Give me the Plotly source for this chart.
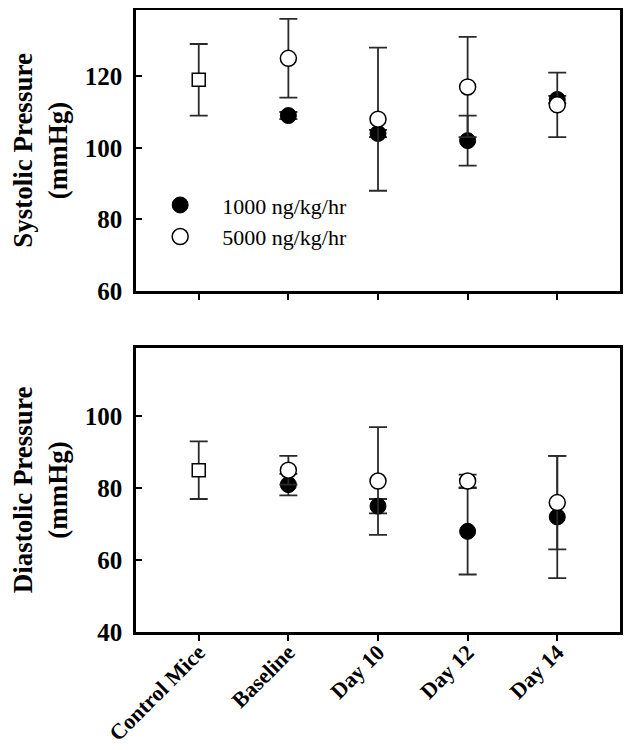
import plotly.graph_objects as go
from plotly.subplots import make_subplots

categories = ["Control Mice", "Baseline", "Day 10", "Day 12", "Day 14"]

# Systolic (top panel)
sys_control = [119]
sys_control_err = [10]
sys_1000 = [109, 104, 102, 113.5]
sys_1000_err = [1, 1, 7, 1]
sys_5000 = [125, 108, 117, 112]
sys_5000_err = [11, 20, 14, 9]

# Diastolic (bottom panel)
dia_control = [85]
dia_control_err = [8]
dia_1000 = [81, 75, 68, 72]
dia_1000_err = [3, 2, 12, 17]
dia_5000 = [85, 82, 82, 76]
dia_5000_err = [4, 15, 1.8, 13]

FONT = "Liberation Serif"
ERRC = "#2a2a2a"

fig = make_subplots(rows=2, cols=1, vertical_spacing=0.0)

def err(vals):
    return dict(type="data", array=vals, visible=True, color=ERRC, thickness=1.8, width=9)

x_ctrl = [categories[0]]
x_trt = categories[1:]

for row, ctrl, ctrl_e, v1, e1, v5, e5 in [
    (1, sys_control, sys_control_err, sys_1000, sys_1000_err, sys_5000, sys_5000_err),
    (2, dia_control, dia_control_err, dia_1000, dia_1000_err, dia_5000, dia_5000_err),
]:
    fig.add_trace(go.Scatter(
        x=x_ctrl, y=ctrl, mode="markers", error_y=err(ctrl_e), showlegend=False,
        marker=dict(symbol="square", size=13, color="white", line=dict(color="black", width=1.5)),
    ), row=row, col=1)
    fig.add_trace(go.Scatter(
        x=x_trt, y=v1, mode="markers", error_y=err(e1), name="1000 ng/kg/hr",
        showlegend=(row == 1),
        marker=dict(symbol="circle", size=16, color="black", line=dict(color="black", width=1)),
    ), row=row, col=1)
    fig.add_trace(go.Scatter(
        x=x_trt, y=v5, mode="markers", error_y=err(e5), name="5000 ng/kg/hr",
        showlegend=(row == 1),
        marker=dict(symbol="circle", size=16, color="white", line=dict(color="black", width=1.5)),
    ), row=row, col=1)

axis_common = dict(
    showline=True, linecolor="black", linewidth=2.5, mirror=True,
    showgrid=False, zeroline=False, automargin=False,
)

fig.update_xaxes(
    **axis_common,
    type="category", categoryorder="array", categoryarray=categories,
    range=[-0.7, 4.7], ticks="outside", ticklen=6, tickwidth=1.5, tickcolor="black",
    tickangle=-45, tickfont=dict(family=FONT, size=22, color="black", weight="bold"),
    ticklabelstandoff=-10,
)
fig.update_xaxes(showticklabels=False, row=1, col=1)

fig.update_yaxes(
    **axis_common,
    ticks="inside", ticklen=6, tickwidth=1.5, tickcolor="black",
    tickfont=dict(family=FONT, size=25, color="black", weight="bold"),
    ticklabelstandoff=6,
)
title_font = dict(family=FONT, size=27, color="black", weight="bold")
fig.update_yaxes(range=[60, 138.5], tickvals=[60, 80, 100, 120], row=1, col=1,
                 title=dict(text="Systolic Pressure<br>(mmHg)", font=title_font, standoff=20))
fig.update_yaxes(range=[40, 119], tickvals=[40, 60, 80, 100], row=2, col=1,
                 title=dict(text="Diastolic Pressure<br>(mmHg)", font=title_font, standoff=20))

fig.update_layout(
    width=623, height=742,
    margin=dict(l=128, r=11, t=2, b=118, autoexpand=False),
    paper_bgcolor="white", plot_bgcolor="white",
    font=dict(family=FONT, color="black"),
    yaxis=dict(domain=[0.5483, 1.0]),
    yaxis2=dict(domain=[0.0, 0.4566]),
    legend=dict(
        x=0.0045, y=0.72, xanchor="left", yanchor="top",
        bgcolor="rgba(0,0,0,0)", font=dict(family=FONT, size=22, color="black"),
        itemwidth=74, tracegroupgap=0,
    ),
    showlegend=True,
)

fig.write_html("out.html")
